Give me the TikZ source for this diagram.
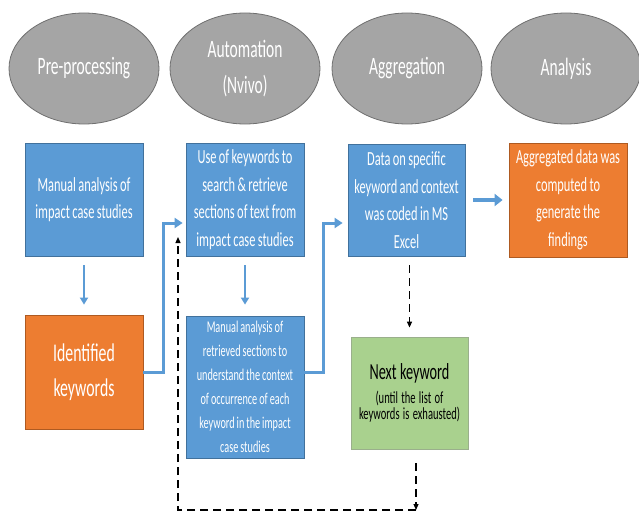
\documentclass[tikz,border=0pt]{standalone}
\usepackage{fontspec}
\setmainfont[FakeStretch=0.62, WordSpace=0.85]{Carlito}
\usetikzlibrary{arrows.meta,shapes.geometric}
\definecolor{ebl}{HTML}{5B9BD5}
\definecolor{ebd}{HTML}{41719C}
\definecolor{eor}{HTML}{ED7D31}
\definecolor{eord}{HTML}{AE5A21}
\definecolor{egr}{HTML}{A9D18E}
\definecolor{egrd}{HTML}{9AAF8C}
\definecolor{egy}{HTML}{A5A5A5}
\definecolor{egyd}{HTML}{6F6F6F}
\tikzset{
  phase/.style={ellipse, draw=egyd, line width=0.8pt, fill=egy, text=white,
    minimum width=150pt, minimum height=111pt, inner sep=0pt, align=center,
    font=\fontsize{25}{36}\selectfont},
  bluebox/.style={rectangle, draw=ebd, line width=0.8pt, fill=ebl, text=white,
    minimum width=118pt, minimum height=113pt, inner sep=0pt, align=center,
    font=\fontsize{20}{27.5}\selectfont},
  orangebox/.style={bluebox, draw=eord, fill=eor},
  greenbox/.style={rectangle, draw=egrd, line width=0.8pt, fill=egr, text=black,
    minimum width=117pt, minimum height=112pt, inner sep=0pt, align=center,
    text width=116pt},
  barrow/.style={draw=ebl, line width=3pt, -{Triangle[width=10pt,length=8pt]}},
  darrow/.style={draw=black, line width=1.2pt, dash pattern=on 8pt off 5pt,
    -{Triangle[width=5pt,length=6pt]}},
}
\begin{document}
\begin{tikzpicture}[x=1pt,y=-1pt]
\useasboundingbox (0,0) rectangle (639,511);
% phases
\node[phase] (p1) at (84,68.5) {Pre-processing};
\node[phase] (p2) at (245,68.5) {Automation\\(Nvivo)};
\node[phase] (p3) at (407,68.5) {Aggregation};
\node[phase] (p4) at (566,68.5) {Analysis};
% boxes
\node[bluebox] (b1) at (84,199.5) {Manual analysis of\\impact case studies};
\node[bluebox] (b2) at (245,199.5) {Use of keywords to\\search \& retrieve\\sections of text from\\impact case studies};
\node[bluebox, minimum height=142pt, font=\fontsize{16.5}{24}\selectfont] (b3) at (245,387)
  {Manual analysis of\\retrieved sections to\\understand the context\\of occurrence of each\\keyword in the impact\\case studies};
\node[bluebox, minimum width=117pt, minimum height=112pt] (b4) at (406.5,200)
  {Data on specific\\keyword and context\\was coded in MS\\Excel};
\node[orangebox, minimum height=114pt] (b5) at (568,200)
  {Aggregated data was\\computed to\\generate the\\findings};
\node[orangebox, minimum height=114pt, font=\fontsize{25.5}{35}\selectfont] (kw) at (84,372)
  {Identified\\keywords};
\node[greenbox] (gr) at (409.5,393)
  {{\fontsize{23}{30}\selectfont Next keyword}\\[1pt]
   {\fontsize{17}{23}\selectfont (until the list of\\keywords is exhausted)}};
% coordinates for dashed loop
\coordinate (bot) at (416,510);
\coordinate (ret) at (178,237);
% blue connectors
\draw[barrow, line width=2.2pt, -{Triangle[width=8pt,length=7pt]}, shorten <=9pt, shorten >=10pt] (b1) -- (kw);
\draw[barrow] (kw.east) -- ++(20,0) |- ([xshift=-3pt,yshift=-23.5pt]b2.west);
\draw[barrow, line width=2.2pt, -{Triangle[width=8pt,length=7pt]}, shorten <=9pt, shorten >=11pt] (b2) -- (b3);
\draw[barrow] ([yshift=15pt]b3.east) -- ++(19,0) |- ([xshift=-5pt,yshift=-23pt]b4.west);
\draw[barrow, line width=4.5pt, -{Triangle[width=12pt,length=8pt]}, shorten <=8pt, shorten >=6pt] (b4) -- (b5);
% dashed connectors
\draw[darrow, shorten <=9pt, shorten >=9pt] (b4.south -| gr.north) -- (gr.north);
\draw[darrow] ([xshift=6.5pt,yshift=-14pt]gr.south) -- (bot);
\draw[darrow] (bot) -| (ret);
\end{tikzpicture}
\end{document}
